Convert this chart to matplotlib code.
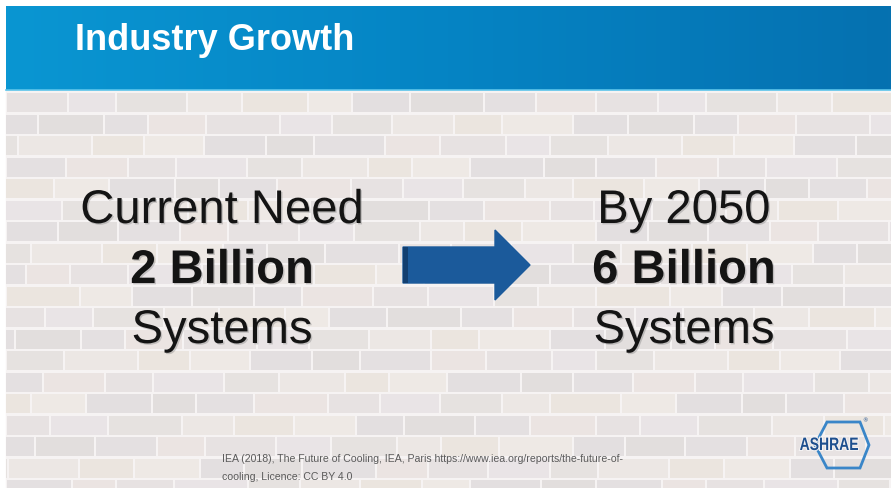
import matplotlib.pyplot as plt
import matplotlib.patches as mpatches
import matplotlib.patheffects as pe
from matplotlib.colors import LinearSegmentedColormap
from matplotlib.textpath import TextPath
from matplotlib.font_manager import FontProperties
from matplotlib.transforms import Affine2D
import numpy as np

# slide content
title = "Industry Growth"
current_systems = 2   # billions of cooling systems today
future_systems = 6    # billions of cooling systems by 2050
target_year = 2050
left_lines = ["Current Need", f"{current_systems} Billion", "Systems"]
right_lines = [f"By {target_year}", f"{future_systems} Billion", "Systems"]
line_weights = ["normal", "bold", "normal"]
citation = ["IEA (2018), The Future of Cooling, IEA, Paris https://www.iea.org/reports/the-future-of-",
            "cooling, Licence: CC BY 4.0"]
logo_text = "ASHRAE"

W, H = 891, 488
fig = plt.figure(figsize=(W / 100, H / 100), dpi=100)
ax = fig.add_axes([0, 0, 1, 1])
ax.set_xlim(0, W)
ax.set_ylim(H, 0)
ax.axis("off")
fig.patch.set_facecolor("white")

# brick wall background
brick_colors = ["#e7e2e2", "#ece7e4", "#e3dfe0", "#ebe4e2", "#e6e2e0",
                "#eee9e5", "#e4e0e1", "#e9e4e6", "#ebe5df", "#e2dedd"]
mortar = "#f6f3f3"
wall = mpatches.Rectangle((6, 90), W - 6, H - 90, color=mortar, zorder=0)
ax.add_patch(wall)
row_h = 21.5
widths = [62, 48, 71, 55, 66, 44, 58, 74, 52, 60]
y = 92
r = 0
while y < H:
    x = 6 - (r % 3) * 23
    k = r * 3
    while x < W:
        w = widths[k % len(widths)]
        c = brick_colors[(k * 7 + r) % len(brick_colors)]
        b = mpatches.Rectangle((x + 1, y + 1.2), w - 2, row_h - 2.4,
                               color=c, zorder=1, lw=0)
        ax.add_patch(b)
        b.set_clip_path(wall)
        x += w
        k += 1
    y += row_h
    r += 1

# header band with horizontal gradient
grad = np.linspace(0, 1, 256)[None, :]
hdr_cmap = LinearSegmentedColormap.from_list("hdr", ["#0a96d2", "#0584c4", "#0671b0"])
ax.imshow(grad, cmap=hdr_cmap, extent=(6, W, 90, 6), aspect="auto", zorder=3)
ax.plot([6, W], [90, 90], color="#5cc4ea", lw=1.2, zorder=4)
ax.text(75, 40, title, color="white", fontsize=26, fontweight="bold",
        family="Liberation Sans", va="center", ha="left", zorder=5)

# two columns of text
shadow = [pe.withSimplePatchShadow(offset=(1, -1), shadow_rgbFace="#777777", alpha=0.35)]
baselines = [223, 283, 343]
for col_x, lines in [(222, left_lines), (684, right_lines)]:
    for txt, yy, wt in zip(lines, baselines, line_weights):
        ax.text(col_x, yy, txt, fontsize=34, fontweight=wt, family="Liberation Sans",
                color="#141414", ha="center", va="baseline", zorder=5,
                path_effects=shadow)

# arrow between the columns
arrow = mpatches.FancyArrow(403, 265, 127, 0, width=36, head_width=70,
                            head_length=35, length_includes_head=True,
                            color="#1b5a9b", zorder=5)
ax.add_patch(arrow)
ax.add_patch(mpatches.Rectangle((403, 247), 5, 36, color="#123f70", zorder=6, lw=0))

# source note
for i, line in enumerate(citation):
    ax.text(222, 459 + i * 18, line, fontsize=7.6, color="#5a5a5a",
            family="Liberation Sans", ha="left", va="center", zorder=5)

# logo: hexagon with condensed lettering over its left side
hex_pts = [(815, 445), (827, 422), (860, 422), (869, 445), (860, 468), (827, 468)]
ax.add_patch(mpatches.Polygon(hex_pts, closed=True, fill=False,
                              edgecolor="#3a86c8", lw=2.0, zorder=5))
tp = TextPath((0, 0), logo_text, size=18,
              prop=FontProperties(family="Liberation Sans", weight="bold"))
ext = tp.get_extents()
tp = Affine2D().translate(-ext.x0, 0).scale(58 / ext.width, -1).translate(800, 450).transform_path(tp)
ax.add_patch(mpatches.PathPatch(tp, facecolor="#1e4f8e", edgecolor="#f4f2f2",
                                lw=1.5, zorder=6))
ax.add_patch(mpatches.PathPatch(tp, facecolor="#1e4f8e", lw=0, zorder=7))
ax.text(865, 421, "®", fontsize=4, color="#1e4f8e", ha="center", va="center", zorder=6)

fig.savefig("out.png", dpi=100)
